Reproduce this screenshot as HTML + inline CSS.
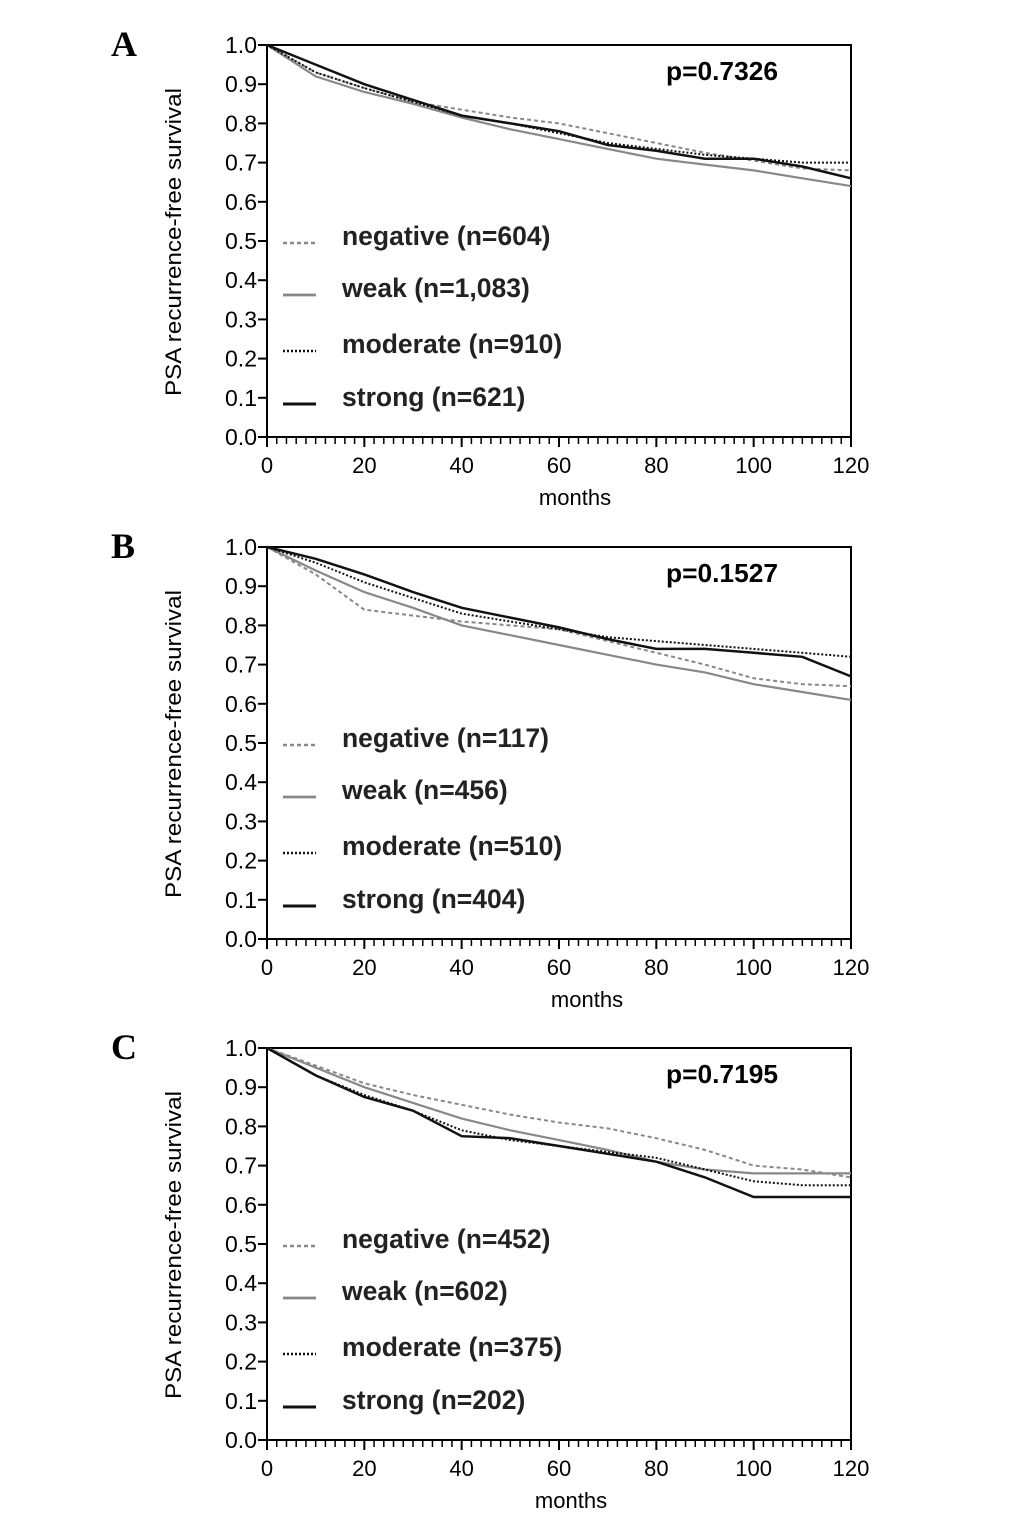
<!DOCTYPE html>
<html><head><meta charset="utf-8"><style>
body{margin:0;background:#fff;width:1033px;height:1521px;overflow:hidden}
svg{display:block}
</style></head><body>
<svg id="chart" width="1033" height="1521" viewBox="0 0 1033 1521" font-family="Liberation Sans, sans-serif"></svg>
<script>
const months=[0,10,20,30,40,50,60,70,80,90,100,110,120];
const panelLetters=['A','B','C'];
const pValues=['p=0.7326','p=0.1527','p=0.7195'];
const seriesNames=['negative','weak','moderate','strong'];
const legendA=['negative (n=604)','weak (n=1,083)','moderate (n=910)','strong (n=621)'];
const legendB=['negative (n=117)','weak (n=456)','moderate (n=510)','strong (n=404)'];
const legendC=['negative (n=452)','weak (n=602)','moderate (n=375)','strong (n=202)'];
const aNeg=[1,.93,.89,.855,.835,.815,.80,.775,.75,.725,.705,.685,.68];
const aWeak=[1,.92,.88,.85,.815,.785,.76,.735,.71,.695,.68,.66,.64];
const aMod=[1,.93,.89,.855,.82,.80,.775,.75,.735,.72,.71,.70,.70];
const aStr=[1,.95,.90,.86,.82,.80,.78,.745,.73,.71,.71,.69,.66];
const bNeg=[1,.93,.84,.825,.81,.80,.79,.76,.73,.70,.665,.65,.645];
const bWeak=[1,.94,.885,.845,.80,.775,.75,.725,.70,.68,.65,.63,.61];
const bMod=[1,.96,.91,.87,.83,.81,.79,.77,.76,.75,.74,.73,.72];
const bStr=[1,.97,.93,.885,.845,.82,.795,.765,.74,.74,.73,.72,.67];
const cNeg=[1,.955,.91,.88,.855,.83,.81,.795,.77,.74,.70,.69,.67];
const cWeak=[1,.95,.90,.86,.82,.79,.765,.74,.71,.69,.68,.68,.68];
const cMod=[1,.93,.88,.84,.79,.765,.75,.735,.72,.69,.66,.65,.65];
const cStr=[1,.93,.875,.84,.775,.77,.75,.73,.71,.67,.62,.62,.62];
const yTicks=['0.0','0.1','0.2','0.3','0.4','0.5','0.6','0.7','0.8','0.9','1.0'];
const xTicks=[0,20,40,60,80,100,120];

const panels=[
 {top:45,data:[aNeg,aWeak,aMod,aStr],legend:legendA,mx:575},
 {top:547,data:[bNeg,bWeak,bMod,bStr],legend:legendB,mx:587},
 {top:1048,data:[cNeg,cWeak,cMod,cStr],legend:legendC,mx:571}
];
const styles=[{c:'#888',d:'4,3',w:2},{c:'#888',d:'',w:2.2},{c:'#111',d:'2,2',w:2},{c:'#111',d:'',w:2.5}];
const NS='http://www.w3.org/2000/svg';
const svg=document.getElementById('chart');
function mk(tag,attrs,parent,txt){const e=document.createElementNS(NS,tag);for(const k in attrs)e.setAttribute(k,attrs[k]);if(txt!==undefined)e.textContent=txt;(parent||svg).appendChild(e);return e;}
const L=267,R=851,H=392;
panels.forEach((p,pi)=>{
 const g=mk('g',{});
 
 
 const xs=m=>L+(R-L)*m/120, ys=v=>p.top+H*(1-v);
 const bottom=p.top+H;
 const lt=mk('text',{x:111,y:p.top+11,'font-size':36,'font-weight':'bold','font-family':'Liberation Serif, serif'},g,panelLetters[pi]);
 
 const box=mk('rect',{x:L,y:p.top,width:R-L,height:H,fill:'none',stroke:'#000','stroke-width':2},g);
 
 yTicks.forEach((t,i)=>{const y=ys(+t);
  mk('line',{x1:L-9,x2:L,y1:y,y2:y,stroke:'#000','stroke-width':2},g);
  const tx=mk('text',{x:L-10,y:y+8,'font-size':23,'text-anchor':'end'},g,t);
  });
 for(let m=0;m<=120;m+=2){const x=xs(m);const maj=m%20===0;
  mk('line',{x1:x,x2:x,y1:bottom,y2:bottom+(maj?10:7),stroke:'#000','stroke-width':maj?2:1.5},g);}
 xTicks.forEach(m=>{const tx=mk('text',{x:xs(m),y:bottom+36,'font-size':22,'text-anchor':'middle'},g,String(m));
  });
 const xt=mk('text',{x:p.mx,y:bottom+68,'font-size':22,'text-anchor':'middle'},g,'months');
 
 const cy=p.top+197;
 const yt=mk('text',{x:0,y:0,'font-size':22,'text-anchor':'middle',textLength:308,lengthAdjust:'spacingAndGlyphs',transform:`translate(181,${cy}) rotate(-90)`},g,'PSA recurrence-free survival');
 
 const pv=mk('text',{x:666,y:p.top+35,'font-size':26,'font-weight':'bold',textLength:112,lengthAdjust:'spacingAndGlyphs'},g,pValues[pi]);
 
 p.data.forEach((arr,si)=>{const s=styles[si];
  const pts=arr.map((v,i)=>xs(months[i]).toFixed(1)+','+ys(v).toFixed(1)).join(' ');
  const pl=mk('polyline',{points:pts,fill:'none',stroke:s.c,'stroke-width':s.w,'stroke-dasharray':s.d},g);
  });
 const rowY=[191,243,299,352];
 p.legend.forEach((lab,si)=>{const s=styles[si];const y=p.top+rowY[si];
  const sw=mk('line',{x1:283,x2:316,y1:y+7,y2:y+7,stroke:s.c,'stroke-width':s.w+0.5,'stroke-dasharray':s.d},g);
  
  const t=mk('text',{x:342,y:y+9,'font-size':26.5,'font-weight':'bold',fill:'#222'},g,lab);
  });
});
</script>
</body></html>
